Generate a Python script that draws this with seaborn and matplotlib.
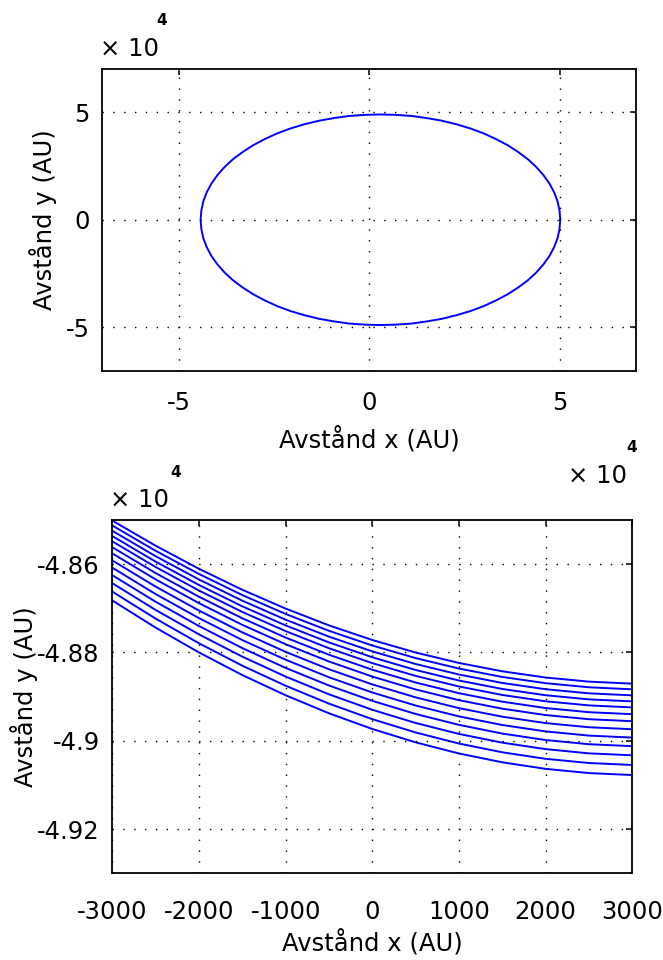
import matplotlib
matplotlib.use('Agg')
import pandas as pd
import matplotlib.pyplot as plt
from matplotlib.ticker import FormatStrFormatter
import seaborn as sns

# Orbit in the upper panel (units of 1e4 AU).
orbit_x = [5.02, 5.00, 4.95, 4.86, 4.74, 4.58, 4.39, 4.17, 3.92, 3.64,
           3.33, 3.01, 2.66, 2.30, 1.91, 1.52, 1.12, 0.71, 0.30,
           -0.11, -0.52, -0.92, -1.31, -1.70, -2.06, -2.41, -2.73, -3.04,
           -3.32, -3.57, -3.79, -3.98, -4.14, -4.26, -4.35, -4.40, -4.42,
           -4.40, -4.35, -4.26, -4.14, -3.98, -3.79, -3.57, -3.32, -3.04,
           -2.73, -2.41, -2.06, -1.70, -1.31, -0.92, -0.52, -0.11, 0.30,
           0.71, 1.12, 1.52, 1.91, 2.30, 2.66, 3.01, 3.33, 3.64,
           3.92, 4.17, 4.39, 4.58, 4.74, 4.86, 4.95, 5.00, 5.02]
orbit_y = [0.0, 0.43, 0.85, 1.27, 1.67, 2.07, 2.45, 2.81, 3.14, 3.46,
           3.75, 4.01, 4.24, 4.43, 4.60, 4.72, 4.82, 4.87, 4.89,
           4.87, 4.82, 4.72, 4.60, 4.43, 4.24, 4.01, 3.75, 3.46,
           3.14, 2.81, 2.45, 2.07, 1.67, 1.27, 0.85, 0.43, 0.0,
           -0.43, -0.85, -1.27, -1.67, -2.07, -2.45, -2.81, -3.14, -3.46,
           -3.75, -4.01, -4.24, -4.43, -4.60, -4.72, -4.82, -4.87, -4.89,
           -4.87, -4.82, -4.72, -4.60, -4.43, -4.24, -4.01, -3.75, -3.46,
           -3.14, -2.81, -2.45, -2.07, -1.67, -1.27, -0.85, -0.43, 0.0]

# Zoom near the bottom of the orbit: x in AU, y in 1e4 AU, one list per revolution.
zoom_x = [-3000, -2500, -2000, -1500, -1000, -500, 0,
          500, 1000, 1500, 2000, 2500, 3000]
zoom_y = [
    [-4.85013, -4.85583, -4.86105, -4.86580, -4.87006, -4.87386, -4.87717,
     -4.88001, -4.88237, -4.88426, -4.88567, -4.88660, -4.88706],
    [-4.85125, -4.85698, -4.86222, -4.86700, -4.87128, -4.87509, -4.87842,
     -4.88127, -4.88364, -4.88554, -4.88695, -4.88788, -4.88834],
    [-4.85245, -4.85820, -4.86347, -4.86827, -4.87257, -4.87641, -4.87975,
     -4.88261, -4.88499, -4.88690, -4.88832, -4.88925, -4.88971],
    [-4.85364, -4.85943, -4.86472, -4.86955, -4.87387, -4.87772, -4.88108,
     -4.88396, -4.88635, -4.88826, -4.88968, -4.89062, -4.89107],
    [-4.85483, -4.86065, -4.86597, -4.87082, -4.87516, -4.87904, -4.88241,
     -4.88530, -4.88770, -4.88962, -4.89105, -4.89198, -4.89244],
    [-4.85617, -4.86202, -4.86738, -4.87225, -4.87662, -4.88051, -4.88390,
     -4.88680, -4.88922, -4.89114, -4.89258, -4.89352, -4.89397],
    [-4.85757, -4.86345, -4.86883, -4.87374, -4.87813, -4.88204, -4.88545,
     -4.88837, -4.89080, -4.89273, -4.89417, -4.89511, -4.89556],
    [-4.85916, -4.86508, -4.87050, -4.87544, -4.87986, -4.88380, -4.88723,
     -4.89016, -4.89260, -4.89454, -4.89599, -4.89693, -4.89738],
    [-4.86080, -4.86677, -4.87222, -4.87719, -4.88164, -4.88561, -4.88906,
     -4.89201, -4.89447, -4.89642, -4.89787, -4.89882, -4.89927],
    [-4.86250, -4.86851, -4.87401, -4.87901, -4.88349, -4.88748, -4.89095,
     -4.89392, -4.89639, -4.89836, -4.89982, -4.90077, -4.90121],
    [-4.86431, -4.87037, -4.87590, -4.88094, -4.88545, -4.88947, -4.89297,
     -4.89596, -4.89844, -4.90042, -4.90188, -4.90284, -4.90328],
    [-4.86623, -4.87233, -4.87791, -4.88299, -4.88753, -4.89158, -4.89510,
     -4.89811, -4.90062, -4.90260, -4.90408, -4.90503, -4.90547],
    [-4.86822, -4.87437, -4.87999, -4.88511, -4.88969, -4.89377, -4.89732,
     -4.90035, -4.90287, -4.90487, -4.90635, -4.90731, -4.90775],
]

top_xticks = [-5, 0, 5]
top_yticks = [-5, 0, 5]
bottom_xticks = [-3000, -2000, -1000, 0, 1000, 2000, 3000]
bottom_yticks = [-4.92, -4.9, -4.88, -4.86]
xlabel = 'Avstånd x (AU)'
ylabel = 'Avstånd y (AU)'

df_zoom = pd.DataFrame(
    [(x, y, i) for i, ys in enumerate(zoom_y) for x, y in zip(zoom_x, ys)],
    columns=['x', 'y', 'run'])

sns.set_style('white')
plt.rcParams['font.family'] = ['DejaVu Sans']
plt.rcParams['axes.unicode_minus'] = False
plt.rcParams['text.color'] = 'black'
plt.rcParams['axes.labelcolor'] = 'black'
plt.rcParams['xtick.color'] = 'black'
plt.rcParams['ytick.color'] = 'black'
plt.rcParams['xtick.direction'] = 'in'
plt.rcParams['ytick.direction'] = 'in'
plt.rcParams['xtick.top'] = True
plt.rcParams['ytick.right'] = True

W, H = 663, 960
fig = plt.figure(figsize=(W / 100, H / 100), dpi=100)


def box(l, t, r, b):
    return [l / W, 1 - b / H, (r - l) / W, (b - t) / H]


ax1 = fig.add_axes(box(102.3, 69, 635.7, 370.5))
ax2 = fig.add_axes(box(112.3, 520, 632.3, 873.3))

fs = 17.5
grid_style = dict(color='black', linestyle=(0, (1, 6.8)), linewidth=1.0)

sns.lineplot(x=orbit_x, y=orbit_y, sort=False, estimator=None,
             color='blue', linewidth=1.4, ax=ax1)
ax1.set_xlim(-7, 7)
ax1.set_ylim(-7, 7)
ax1.set_xticks(top_xticks)
ax1.set_yticks(top_yticks)

sns.lineplot(data=df_zoom, x='x', y='y', units='run', estimator=None,
             sort=False, color='blue', linewidth=1.4, ax=ax2)
ax2.set_xlim(-3000, 3000)
ax2.set_ylim(-4.93, -4.85)
ax2.set_xticks(bottom_xticks)
ax2.set_yticks(bottom_yticks)
ax2.yaxis.set_major_formatter(FormatStrFormatter('%g'))

for ax, ylc, xlc, xpad in [(ax1, -0.085, -0.187, 15), (ax2, -0.143, -0.16, 19)]:
    ax.grid(True, **grid_style)
    ax.set_axisbelow(False)
    for s in ax.spines.values():
        s.set_color('black')
        s.set_linewidth(1.3)
    ax.tick_params(axis='both', which='major', length=4, width=1.1,
                   colors='black', labelsize=fs)
    ax.tick_params(axis='x', pad=xpad)
    ax.tick_params(axis='y', pad=9)
    ax.set_xlabel(xlabel, fontsize=fs)
    ax.set_ylabel(ylabel, fontsize=fs)
    ax.yaxis.set_label_coords(ylc, 0.5)
    ax.xaxis.set_label_coords(0.5, xlc)
    ax.set_facecolor('white')


def mult(x, y, xs, ys):
    # MATLAB style exponent label
    fig.text(x / W, 1 - y / H, '× 10', fontsize=fs, va='baseline', ha='left')
    fig.text(xs / W, 1 - ys / H, '4', fontsize=11, va='baseline', ha='left',
             fontweight='bold')


mult(100, 56, 156, 25)
mult(568, 483, 626, 452)
mult(110, 507, 170, 477)

fig.savefig('out.png', dpi=100, facecolor='white')
